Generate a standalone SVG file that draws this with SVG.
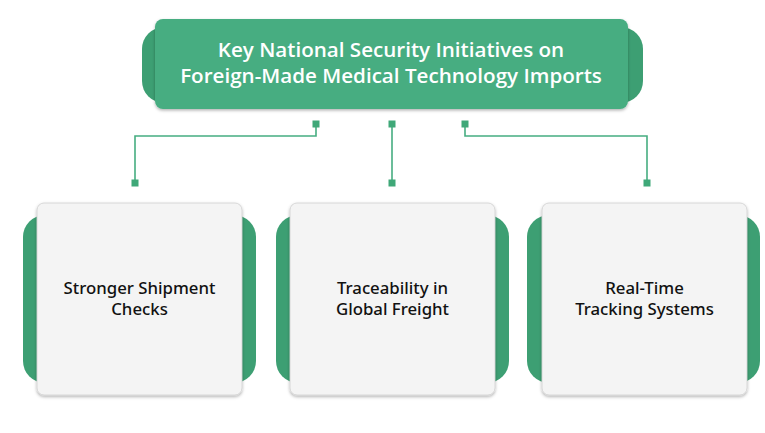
<svg xmlns="http://www.w3.org/2000/svg" width="765" height="433" viewBox="0 0 765 433">
<defs>
<filter id="sh" x="-10%" y="-10%" width="120%" height="125%">
<feDropShadow dx="0" dy="1.5" stdDeviation="1.5" flood-color="#000" flood-opacity="0.3"/>
</filter>
<style>
.back{fill:#3d9f73}
.main{fill:#46ad81}
.card{fill:#f4f4f4;stroke:#d0d0d0;stroke-width:0.8}
.conn{fill:none;stroke:#46ad81;stroke-width:1.6}
.dot{fill:#3fa878}
.tt{font-family:"Open Sans","Noto Sans",sans-serif;font-weight:600;font-size:20.6px;fill:#fff;text-anchor:middle}
.ct{font-family:"Noto Sans","Open Sans",sans-serif;font-weight:500;font-size:16.8px;fill:#111;text-anchor:middle}
</style>
</defs>
<rect width="765" height="433" fill="#fff"/>
<g id="title">
<rect class="back" x="142" y="27" width="501" height="76" rx="22"/>
<rect class="main" x="155" y="19" width="473" height="90" rx="8" filter="url(#sh)"/>
<text class="tt" x="391" y="57">Key National Security Initiatives on</text>
<text class="tt" x="391" y="83">Foreign-Made Medical Technology Imports</text>
</g>
<g id="connectors">
<polyline class="conn" points="316,124 316,136 135,136 135,183"/>
<polyline class="conn" points="392,124 392,183"/>
<polyline class="conn" points="465,124 465,136 647,136 647,183"/>
<rect class="dot" x="312.5" y="120.5" width="7" height="7"/>
<rect class="dot" x="388.5" y="120.5" width="7" height="7"/>
<rect class="dot" x="461.5" y="120.5" width="7" height="7"/>
<rect class="dot" x="131.5" y="179.5" width="7" height="7"/>
<rect class="dot" x="388.5" y="179.5" width="7" height="7"/>
<rect class="dot" x="643.5" y="179.5" width="7" height="7"/>
</g>
<g id="card1">
<rect class="back" x="23" y="215" width="233" height="168" rx="22"/>
<rect class="card" x="37" y="203" width="205" height="192" rx="7" filter="url(#sh)"/>
<text class="ct" x="139.5" y="294">Stronger Shipment</text>
<text class="ct" x="139.5" y="315">Checks</text>
</g>
<g id="card2">
<rect class="back" x="276" y="215" width="233" height="168" rx="22"/>
<rect class="card" x="290" y="203" width="205" height="192" rx="7" filter="url(#sh)"/>
<text class="ct" x="392.5" y="294">Traceability in</text>
<text class="ct" x="392.5" y="315">Global Freight</text>
</g>
<g id="card3">
<rect class="back" x="527" y="215" width="233" height="168" rx="22"/>
<rect class="card" x="542" y="203" width="205" height="192" rx="7" filter="url(#sh)"/>
<text class="ct" x="644.5" y="294">Real-Time</text>
<text class="ct" x="644.5" y="315">Tracking Systems</text>
</g>
</svg>
